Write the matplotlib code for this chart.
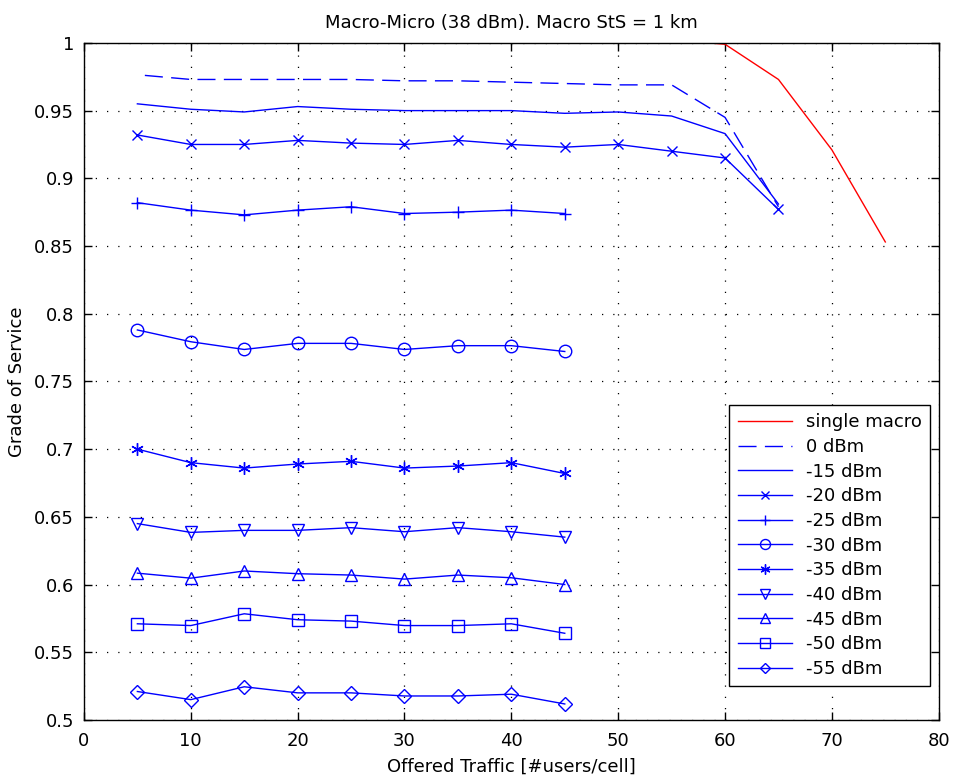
import matplotlib
matplotlib.use("Agg")
import matplotlib.pyplot as plt

plt.rcParams['font.family'] = ['DejaVu Sans']

# offered traffic for the micro-power runs
traffic = [5, 10, 15, 20, 25, 30, 35, 40, 45]

macro_x = [58.5, 60, 65, 70, 75]
macro_y = [1.0, 0.999, 0.973, 0.921, 0.853]

dbm0_x = [5.7, 10, 15, 20, 25, 30, 35, 40, 45, 50, 55, 60, 65]
dbm0_y = [0.976, 0.973, 0.973, 0.973, 0.973, 0.972, 0.972, 0.971, 0.970, 0.969, 0.969, 0.945, 0.879]

dbm15_x = [5, 10, 15, 20, 25, 30, 35, 40, 45, 50, 55, 60, 65]
dbm15_y = [0.955, 0.951, 0.949, 0.953, 0.951, 0.950, 0.950, 0.950, 0.948, 0.949, 0.946, 0.933, 0.881]

dbm20_x = [5, 10, 15, 20, 25, 30, 35, 40, 45, 50, 55, 60, 65]
dbm20_y = [0.932, 0.925, 0.925, 0.928, 0.926, 0.925, 0.928, 0.925, 0.923, 0.925, 0.920, 0.915, 0.877]

dbm25 = [0.882, 0.8765, 0.873, 0.8765, 0.879, 0.874, 0.875, 0.8765, 0.874]
dbm30 = [0.788, 0.7793, 0.7736, 0.7781, 0.7781, 0.7736, 0.7764, 0.7764, 0.7721]
dbm35 = [0.700, 0.690, 0.686, 0.689, 0.691, 0.686, 0.6875, 0.690, 0.682]
dbm40 = [0.645, 0.6385, 0.640, 0.640, 0.642, 0.639, 0.642, 0.639, 0.635]
dbm45 = [0.6084, 0.6047, 0.610, 0.608, 0.607, 0.604, 0.607, 0.605, 0.600]
dbm50 = [0.571, 0.5697, 0.5784, 0.574, 0.573, 0.5697, 0.5697, 0.571, 0.564]
dbm55 = [0.521, 0.515, 0.5245, 0.520, 0.520, 0.5177, 0.5177, 0.519, 0.5118]

fig = plt.figure(figsize=(9.54, 7.8), dpi=100)
ax = fig.add_axes([0.088, 0.077, 0.896, 0.868])

blue = (0, 0, 1)
mk = dict(markersize=9, markeredgewidth=1, markerfacecolor='none')

ax.plot(macro_x, macro_y, color='red', lw=1, label='single macro')
ax.plot(dbm0_x, dbm0_y, color=blue, lw=1, dashes=(13, 6), label='0 dBm')
ax.plot(dbm15_x, dbm15_y, color=blue, lw=1, label='-15 dBm')
ax.plot(dbm20_x, dbm20_y, color=blue, lw=1, marker='x', label='-20 dBm',
        markersize=7, markeredgewidth=1)
ax.plot(traffic, dbm25, color=blue, lw=1, marker='+', label='-25 dBm', **mk)
ax.plot(traffic, dbm30, color=blue, lw=1, marker='o', label='-30 dBm', **mk)
ax.plot(traffic, dbm35, color=blue, lw=1, marker=(6, 2, 0), label='-35 dBm', **mk)
ax.plot(traffic, dbm40, color=blue, lw=1, marker='v', label='-40 dBm', **mk)
ax.plot(traffic, dbm45, color=blue, lw=1, marker='^', label='-45 dBm', **mk)
ax.plot(traffic, dbm50, color=blue, lw=1, marker='s', label='-50 dBm', **mk)
ax.plot(traffic, dbm55, color=blue, lw=1, marker='D', label='-55 dBm', markersize=7,
        markeredgewidth=1, markerfacecolor='none')

ax.set_xlim(0, 80)
ax.set_ylim(0.5, 1)
ax.set_xticks(range(0, 81, 10))
ax.set_yticks([0.5, 0.55, 0.6, 0.65, 0.7, 0.75, 0.8, 0.85, 0.9, 0.95, 1])
ax.set_yticklabels(['0.5', '0.55', '0.6', '0.65', '0.7', '0.75', '0.8', '0.85', '0.9', '0.95', '1'])
ax.grid(True, color='black', linestyle=(0, (1, 8)), lw=0.9)
ax.tick_params(direction='in', length=6, width=1, top=True, right=True, labelsize=13)
ax.tick_params(axis='x', pad=9)
ax.tick_params(axis='y', pad=7)
for s in ax.spines.values():
    s.set_linewidth(1)

ax.set_title('Macro-Micro (38 dBm). Macro StS = 1 km', fontsize=13, pad=11)
ax.set_xlabel('Offered Traffic [#users/cell]', fontsize=13, labelpad=5)
ax.set_ylabel('Grade of Service', fontsize=13, labelpad=6)

leg = ax.legend(loc='lower right', fontsize=13, fancybox=False, framealpha=1,
                edgecolor='black', borderaxespad=0.0, handlelength=3.0, labelspacing=0.37,
                borderpad=0.45, handletextpad=0.8, markerscale=0.8,
                bbox_to_anchor=(0.99, 0.05))
leg.get_frame().set_linewidth(1)

fig.savefig('out.png', dpi=100)
